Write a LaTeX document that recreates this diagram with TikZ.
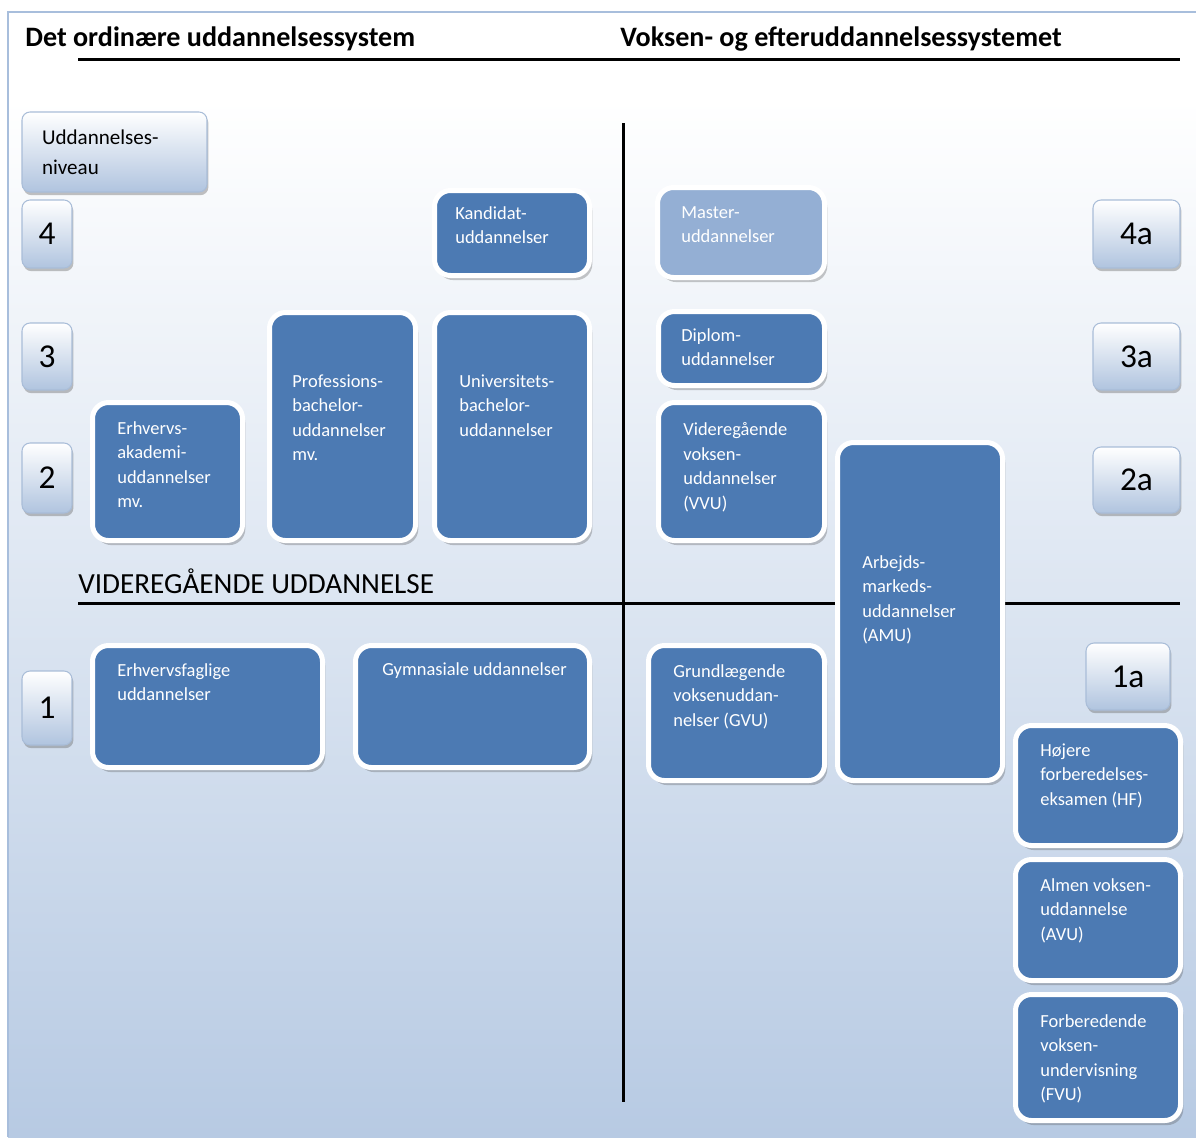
\documentclass[tikz,border=0pt]{standalone}
\usepackage{fontspec}
\setmainfont{Carlito}
\usetikzlibrary{shadows}
\definecolor{boxblue}{HTML}{4C7AB3}
\definecolor{masterblue}{HTML}{94AFD4}
\definecolor{bgbottom}{HTML}{B7CAE3}
\definecolor{lvlbottom}{HTML}{B0C4DF}
\definecolor{lvledge}{HTML}{A9BDD8}
\definecolor{paneledge}{HTML}{A8BEDC}
\tikzset{
  edubox/.style={draw=white, line width=0.1cm, fill=boxblue, rounded corners=0.32cm, inner sep=0,
    drop shadow={shadow xshift=1.6pt, shadow yshift=-2.6pt, opacity=0.3, fill=black!70}},
  masterbox/.style={edubox, fill=masterblue},
  lvlbox/.style={draw=lvledge, line width=0.6pt, top color=white, bottom color=lvlbottom,
    rounded corners=0.16cm, inner sep=0,
    drop shadow={shadow xshift=0.8pt, shadow yshift=-1.8pt, opacity=0.4, fill=black!60},
    font=\fontsize{19}{23}\selectfont},
  boxtext/.style={text=white, anchor=north west, inner sep=0, align=left,
    font=\fontsize{10.5}{14}\selectfont},
  titletext/.style={anchor=base west, inner sep=0, font=\fontsize{16}{19}\selectfont\bfseries},
  mainline/.style={line width=0.06cm, black},
}
\newcommand\edubox[6]{%
  \node[#1, minimum width={(#5-#3+5)*0.02cm}, minimum height={(#6-#4+5)*0.02cm}] (#2) at ({(#3+#5)/2},{(#4+#6)/2}) {};}
\newcommand\btext[4]{\node[boxtext] (#1) at (#2,#3) {#4};}
\newcommand\lvl[6]{%
  \node[lvlbox, minimum width={(#4-#2)*0.02cm}, minimum height={(#5-#3)*0.02cm}] (#1) at ({(#2+#4)/2},{(#3+#5)/2}) {#6};}
\begin{document}
\begin{tikzpicture}[x=0.02cm, y=-0.02cm]
\useasboundingbox (0,0) rectangle (1196,1137);
% panel background
\fill[white] (0,0) rectangle (1196,1137);
\fill[white] (8,12) rectangle (1196,100);
\shade[top color=white, bottom color=bgbottom] (8,99) rectangle (1196,1137);
\draw[paneledge, line width=1.5pt] (8,1137) -- (8,12) -- (1196,12);
% titles
\node[titletext] (tl) at (25,46) {Det ordinære uddannelsessystem};
\node[titletext] (tr) at (620,46) {Voksen- og efteruddannelsessystemet};
\coordinate (ul1) at (78,59);
\coordinate (ul2) at (1180,59);
\draw[mainline] (ul1) -- (ul2);
% axes
\coordinate (vtop) at (623,123);
\coordinate (vbot) at (623,1102);
\coordinate (hl) at (78,603);
\coordinate (hr) at (1180,603);
\draw[mainline] (vtop) -- (vbot);
\draw[mainline] (hl) -- (hr);
\node[anchor=base west, inner sep=0, font=\fontsize{16.6}{19}\selectfont] (vid) at (78,593) {VIDEREGÅENDE UDDANNELSE};
% level boxes
\node[lvlbox, font=\fontsize{12}{17}\selectfont, align=left, text width={(185-40)*0.02cm},
  minimum width={185*0.02cm}, minimum height={80*0.02cm}] (niv) at (114.5,152) {Uddannelses-\\niveau};
\lvl{l4}{22}{200}{72}{268}{4}
\lvl{l3}{22}{323}{72}{390}{3}
\lvl{l2}{22}{443}{72}{513}{2}
\lvl{l1}{22}{671}{72}{745}{1}
\lvl{l4a}{1093}{200}{1180}{268}{4a}
\lvl{l3a}{1093}{323}{1180}{390}{3a}
\lvl{l2a}{1093}{447}{1180}{513}{2a}
\lvl{l1a}{1086}{643}{1170}{710}{1a}
% education boxes
\edubox{edubox}{kand}{437}{193}{587}{273}
\edubox{masterbox}{mast}{660}{190}{822}{275}
\edubox{edubox}{prof}{272}{315}{413}{538}
\edubox{edubox}{univ}{437}{315}{587}{538}
\edubox{edubox}{erhv}{95}{405}{240}{538}
\edubox{edubox}{dipl}{661}{314}{822}{383}
\edubox{edubox}{vvu}{661}{405}{822}{538}
\edubox{edubox}{amu}{840}{445}{1000}{778}
\edubox{edubox}{erfa}{95}{648}{320}{765}
\edubox{edubox}{gymn}{358}{648}{587}{765}
\edubox{edubox}{gvu}{651}{648}{822}{778}
\edubox{edubox}{hf}{1018}{728}{1178}{843}
\edubox{edubox}{avu}{1018}{862}{1178}{978}
\edubox{edubox}{fvu}{1018}{997}{1178}{1118}
% box texts
\btext{kandt}{455}{206}{Kandidat-\\uddannelser}
\btext{mastt}{681}{206}{Master-\\uddannelser}
\btext{proft}{292}{374}{Professions-\\bachelor-\\uddannelser\\mv.}
\btext{univt}{459}{374}{Universitets-\\bachelor-\\uddannelser}
\btext{erhvt}{117}{421}{Erhvervs-\\akademi-\\uddannelser\\mv.}
\btext{diplt}{681}{328}{Diplom-\\uddannelser}
\btext{vvut}{683}{422}{Videregående\\voksen-\\uddannelser\\(VVU)}
\btext{amut}{862}{555}{Arbejds-\\markeds-\\uddannelser\\(AMU)}
\btext{erfat}{117}{663}{Erhvervsfaglige\\uddannelser}
\btext{gymnt}{382}{662}{Gymnasiale uddannelser}
\btext{gvut}{673}{664}{Grundlægende\\voksenuddan-\\nelser (GVU)}
\btext{hft}{1040}{743}{Højere\\forberedelses-\\eksamen (HF)}
\btext{avut}{1040}{878}{Almen voksen-\\uddannelse\\(AVU)}
\btext{fvut}{1040}{1014}{Forberedende\\voksen-\\undervisning\\(FVU)}
\end{tikzpicture}
\end{document}
